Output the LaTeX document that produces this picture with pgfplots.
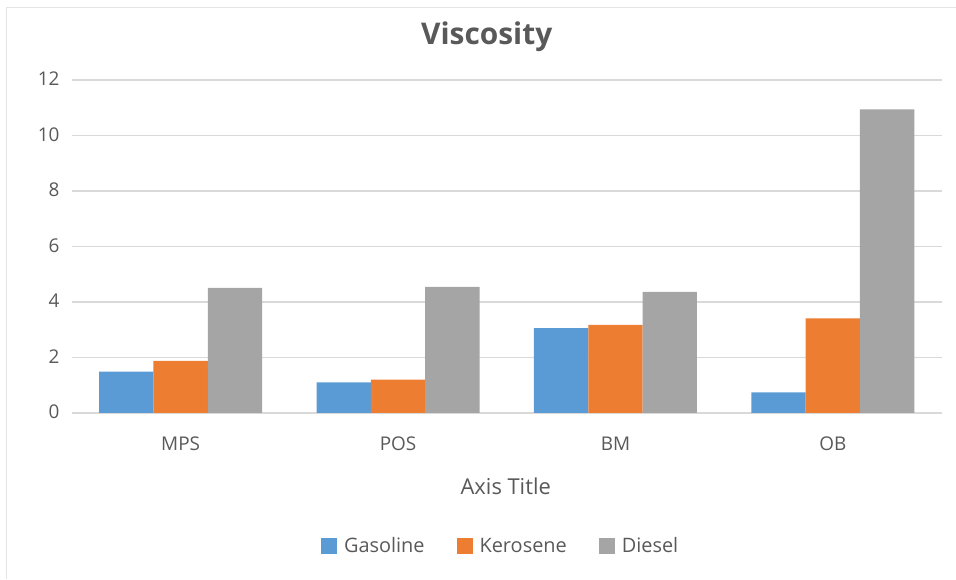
\documentclass[border=0pt]{standalone}
\usepackage{pgfplots}
\pgfplotsset{compat=1.18}
\usepackage{fontspec}
\setmainfont{Open Sans}
\definecolor{gasoline}{HTML}{5B9BD5}
\definecolor{kerosene}{HTML}{ED7D31}
\definecolor{diesel}{HTML}{A5A5A5}
\definecolor{txt}{HTML}{595959}
\definecolor{grid}{HTML}{D9D9D9}

\begin{document}
\begin{tikzpicture}
% page frame (956 x 579 bp)
\path (0bp,0bp) rectangle (956bp,579bp);
\draw[color=grid!70, line width=1bp] (7bp,0bp) -- (7bp,571bp) -- (956bp,571bp);

\begin{axis}[
  at={(72bp,166bp)}, anchor=south west,
  scale only axis, width=870bp, height=333bp,
  xmin=-0.5, xmax=3.5, ymin=0, ymax=12,
  xtick=data, xticklabels={MPS, POS, BM, OB},
  ytick={0,2,...,12},
  ymajorgrids, grid style={color=grid, line width=1.5bp},
  axis line style={draw=none}, tick style={draw=none},
  /pgf/number format/assume math mode=true,
  ticklabel style={font=\fontsize{19}{22}\selectfont, text=txt},
  yticklabel style={anchor=base east, xshift=-9bp, yshift=-6bp},
  xticklabel style={anchor=base, yshift=-38bp},
  bar width=0.25,
  legend columns=3,
  legend style={at={(0.493,-0.405)}, anchor=center, draw=none, fill=none,
    font=\fontsize{20}{22}\selectfont, text=txt,
    nodes={text height=14bp, text depth=4bp},
    /tikz/every odd column/.append style={column sep=5bp},
    /tikz/every even column/.append style={column sep=30bp}},
  legend image code/.code={\fill[#1] (0bp,-6bp) rectangle (16bp,10bp);},
]
\addplot[ybar, fill=gasoline, draw=none, bar shift=-0.25] coordinates {(0,1.48) (1,1.10) (2,3.05) (3,0.74)};
\addplot[ybar, fill=kerosene, draw=none, bar shift=0] coordinates {(0,1.87) (1,1.20) (2,3.17) (3,3.40)};
\addplot[ybar, fill=diesel, draw=none, bar shift=0.25] coordinates {(0,4.50) (1,4.54) (2,4.36) (3,10.94)};
\legend{Gasoline, Kerosene, Diesel}
\end{axis}

\node[anchor=base, text=txt, font=\fontsize{30}{34}\selectfont\bfseries] at (487bp,534bp) {Viscosity};
\node[anchor=base, text=txt, font=\fontsize{22}{26}\selectfont] at (506bp,84bp) {Axis Title};
\end{tikzpicture}
\end{document}
